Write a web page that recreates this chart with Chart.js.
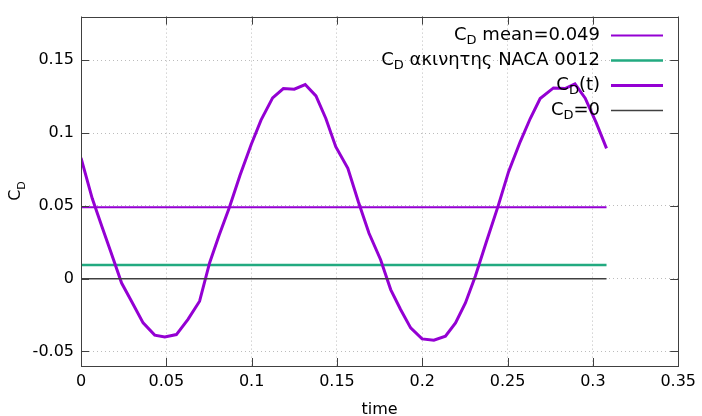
<!DOCTYPE html>
<html>
<head>
  <title>C_D(t)</title>
  <script src="https://cdn.jsdelivr.net/npm/chart.js"></script>
  <style>
    body {
      margin: 0;
      background-color: #fff;
    }
  </style>
</head>
<body>
  <canvas id="cdChart" width="702" height="416"></canvas>

  <script>
    // drag coefficient time history
    const timeValues = [0, 0.0066, 0.0125, 0.0176, 0.0238, 0.0296, 0.0364, 0.0432, 0.0491, 0.0559,
      0.0627, 0.0695, 0.0754, 0.081, 0.087, 0.0932, 0.0997, 0.1055, 0.1123, 0.1186,
      0.125, 0.1314, 0.1377, 0.1435, 0.1493, 0.1564, 0.1625, 0.1688, 0.1756, 0.1815,
      0.1873, 0.1932, 0.1999, 0.2068, 0.2136, 0.2195, 0.2253, 0.2311, 0.2375, 0.2445,
      0.2506, 0.2574, 0.2633, 0.2691, 0.2769, 0.2837, 0.2895, 0.2955, 0.302, 0.308];
    const cdValues = [0.083, 0.055, 0.035, 0.018, -0.003, -0.0155, -0.0304, -0.0388, -0.04, -0.0384,
      -0.028, -0.0155, 0.011, 0.03, 0.049, 0.071, 0.092, 0.1089, 0.1242, 0.1306,
      0.1301, 0.1333, 0.1255, 0.11, 0.0906, 0.0758, 0.053, 0.0312, 0.013, -0.0075,
      -0.0212, -0.0338, -0.0414, -0.0423, -0.0395, -0.0304, -0.0167, 0.0016, 0.025, 0.05,
      0.0735, 0.094, 0.11, 0.1237, 0.131, 0.1306, 0.1338, 0.124, 0.107, 0.0895];

    const cdMean = 0.049;
    const cdNaca = 0.0093;
    const cdZero = 0;

    const seriesLabels = ['C_D mean=0.049', 'C_D ακινητης NACA 0012', 'C_D(t)', 'C_D=0'];

    const xTicks = [0, 0.05, 0.1, 0.15, 0.2, 0.25, 0.3, 0.35];
    const xTickLabels = ['0', '0.05', '0.1', '0.15', '0.2', '0.25', '0.3', '0.35'];
    const yTicks = [-0.05, 0, 0.05, 0.1, 0.15];
    const yTickLabels = ['-0.05', '0', '0.05', '0.1', '0.15'];

    const xTitle = 'time';
    const yTitle = 'C_D';

    const FONT = 'DejaVu Sans';

    function flatLine(value) {
      return [
        { x: timeValues[0], y: value },
        { x: timeValues[timeValues.length - 1], y: value }
      ];
    }

    // text with "_X" turned into a subscript X
    function drawRich(ctx, label, x, y, size, align) {
      const parts = label.split(/_(\w)/);
      const widths = parts.map((p, i) => {
        ctx.font = (i % 2 ? Math.round(size * 0.7) : size) + 'px "' + FONT + '"';
        return ctx.measureText(p).width;
      });
      const total = widths.reduce((a, b) => a + b, 0);
      let cx = align === 'right' ? x - total : align === 'center' ? x - total / 2 : x;
      parts.forEach((p, i) => {
        ctx.font = (i % 2 ? Math.round(size * 0.7) : size) + 'px "' + FONT + '"';
        ctx.fillText(p, cx, y + (i % 2 ? size * 0.3 : 0));
        cx += widths[i];
      });
    }

    // gnuplot style box: frame, inward mirrored ticks, key and axis titles
    const gnuplotBox = {
      id: 'gnuplotBox',
      afterDatasetsDraw(chart) {
        const { ctx, chartArea: a, scales } = chart;
        const tick = 8;
        ctx.save();
        ctx.strokeStyle = '#404040';
        ctx.lineWidth = 1;
        ctx.beginPath();
        xTicks.forEach(v => {
          const px = Math.round(scales.x.getPixelForValue(v)) + 0.5;
          ctx.moveTo(px, a.bottom); ctx.lineTo(px, a.bottom - tick);
          ctx.moveTo(px, a.top); ctx.lineTo(px, a.top + tick);
        });
        yTicks.forEach(v => {
          const py = Math.round(scales.y.getPixelForValue(v)) + 0.5;
          ctx.moveTo(a.left, py); ctx.lineTo(a.left + tick, py);
          ctx.moveTo(a.right, py); ctx.lineTo(a.right - tick, py);
        });
        ctx.stroke();
        ctx.strokeRect(Math.round(a.left) + 0.5, Math.round(a.top) + 0.5,
          Math.round(a.right - a.left), Math.round(a.bottom - a.top));
        ctx.restore();
      },
      afterDraw(chart) {
        const { ctx, chartArea: a } = chart;
        ctx.save();
        ctx.fillStyle = '#000';
        ctx.textBaseline = 'middle';

        // key, top right inside the plot
        chart.data.datasets.forEach((ds, i) => {
          const rowY = 35.5 + i * 25;
          drawRich(ctx, seriesLabels[i], 600, rowY, 18, 'right');
          ctx.strokeStyle = ds.borderColor;
          ctx.lineWidth = ds.borderWidth;
          ctx.beginPath();
          ctx.moveTo(611, rowY);
          ctx.lineTo(663, rowY);
          ctx.stroke();
        });

        // axis titles
        drawRich(ctx, xTitle, (a.left + a.right) / 2, 410, 16, 'center');
        ctx.textBaseline = 'alphabetic';
        ctx.translate(20, 191);
        ctx.rotate(-Math.PI / 2);
        drawRich(ctx, yTitle, 0, 0, 16, 'center');
        ctx.restore();
      }
    };

    const ctx = document.getElementById('cdChart').getContext('2d');

    const chart = new Chart(ctx, {
      type: 'line',
      data: {
        datasets: [
          {
            label: seriesLabels[0],
            data: flatLine(cdMean),
            borderColor: '#9400d3',
            borderWidth: 2,
            order: 3
          },
          {
            label: seriesLabels[1],
            data: flatLine(cdNaca),
            borderColor: '#22aa80',
            borderWidth: 2.5,
            order: 2
          },
          {
            label: seriesLabels[2],
            data: timeValues.map((t, i) => ({ x: t, y: cdValues[i] })),
            borderColor: '#9400d3',
            borderWidth: 3,
            order: 1
          },
          {
            label: seriesLabels[3],
            data: flatLine(cdZero),
            borderColor: '#404040',
            borderWidth: 1.5,
            order: 0
          }
        ]
      },
      options: {
        responsive: false,
        animation: false,
        layout: {
          padding: { top: 16, right: 22, left: 0, bottom: 0 }
        },
        elements: {
          point: { radius: 0 },
          line: { tension: 0, fill: false }
        },
        scales: {
          x: {
            type: 'linear',
            min: 0,
            max: 0.35,
            afterBuildTicks: s => { s.ticks = xTicks.map(v => ({ value: v })); },
            afterFit: s => { s.height = 50; },
            ticks: {
              callback: (v, i) => xTickLabels[i],
              font: { family: FONT, size: 16 },
              color: '#000',
              padding: 6,
              maxRotation: 0,
              autoSkip: false
            },
            grid: { color: '#bcbcbc', lineWidth: 1, drawTicks: false },
            border: { display: false, dash: [1, 3] }
          },
          y: {
            type: 'linear',
            min: -0.06,
            max: 0.18,
            afterBuildTicks: s => { s.ticks = yTicks.map(v => ({ value: v })); },
            afterFit: s => { s.width = 81; },
            ticks: {
              callback: (v, i) => yTickLabels[i],
              font: { family: FONT, size: 16 },
              color: '#000',
              padding: 7,
              autoSkip: false
            },
            grid: { color: '#bcbcbc', lineWidth: 1, drawTicks: false },
            border: { display: false, dash: [1, 3] }
          }
        },
        plugins: {
          legend: { display: false },
          tooltip: { enabled: false }
        }
      },
      plugins: [gnuplotBox]
    });
  </script>
</body>
</html>
